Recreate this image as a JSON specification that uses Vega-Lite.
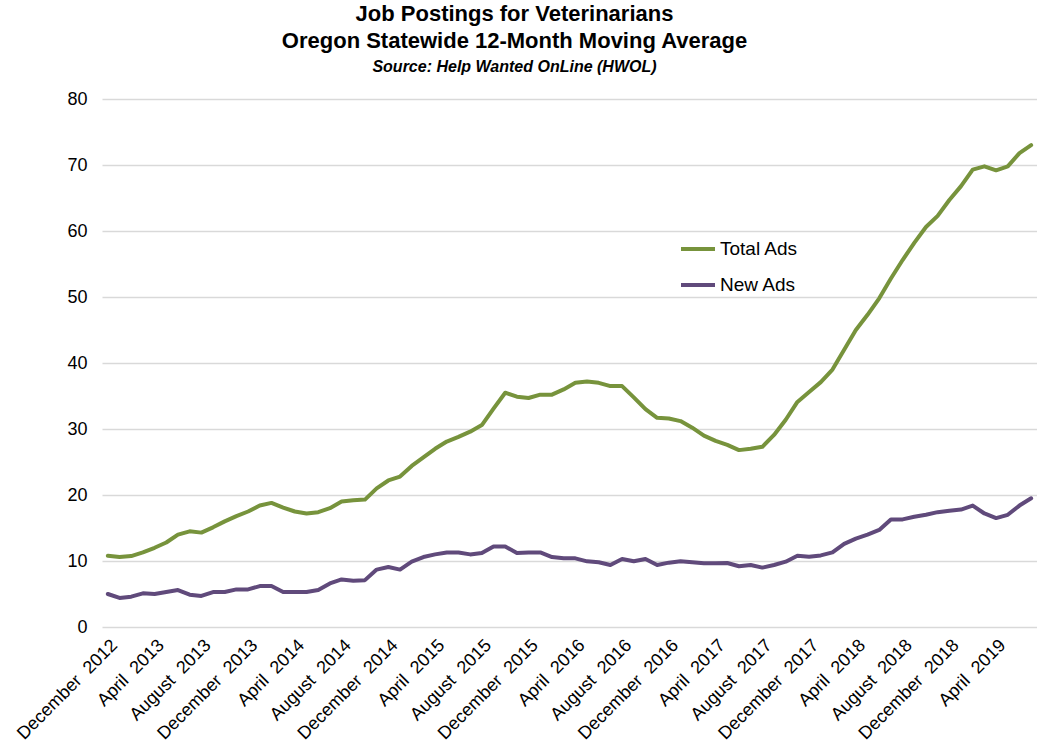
{
  "$schema": "https://vega.github.io/schema/vega-lite/v6.json",
  "width": 935,
  "height": 528,
  "autosize": {"type": "none"},
  "padding": {"left": 102, "top": 99, "right": 0, "bottom": 127},
  "background": "white",
  "config": {"view": {"stroke": null}, "font": "Liberation Sans"},
  "title": {
    "text": ["Job Postings for Veterinarians", "Oregon Statewide 12-Month Moving Average"],
    "subtitle": "Source: Help Wanted OnLine (HWOL)",
    "font": "Liberation Sans",
    "fontSize": 22,
    "fontWeight": "bold",
    "color": "#000000",
    "lineHeight": 27,
    "subtitleFont": "Liberation Sans",
    "subtitleFontSize": 16,
    "subtitleFontStyle": "italic",
    "subtitleFontWeight": "bold",
    "subtitleColor": "#000000",
    "subtitlePadding": 6,
    "anchor": "middle",
    "dx": -55,
    "offset": 14
  },
  "data": {
    "values": [
      {"month": "December 2012", "series": "Total Ads", "value": 10.8},
      {"month": "January 2013", "series": "Total Ads", "value": 10.6},
      {"month": "February 2013", "series": "Total Ads", "value": 10.75},
      {"month": "March 2013", "series": "Total Ads", "value": 11.3},
      {"month": "April 2013", "series": "Total Ads", "value": 12.0},
      {"month": "May 2013", "series": "Total Ads", "value": 12.8},
      {"month": "June 2013", "series": "Total Ads", "value": 14.0},
      {"month": "July 2013", "series": "Total Ads", "value": 14.5},
      {"month": "August 2013", "series": "Total Ads", "value": 14.3},
      {"month": "September 2013", "series": "Total Ads", "value": 15.1},
      {"month": "October 2013", "series": "Total Ads", "value": 16.0},
      {"month": "November 2013", "series": "Total Ads", "value": 16.8},
      {"month": "December 2013", "series": "Total Ads", "value": 17.5},
      {"month": "January 2014", "series": "Total Ads", "value": 18.4},
      {"month": "February 2014", "series": "Total Ads", "value": 18.8},
      {"month": "March 2014", "series": "Total Ads", "value": 18.1},
      {"month": "April 2014", "series": "Total Ads", "value": 17.5},
      {"month": "May 2014", "series": "Total Ads", "value": 17.2},
      {"month": "June 2014", "series": "Total Ads", "value": 17.4},
      {"month": "July 2014", "series": "Total Ads", "value": 18.0},
      {"month": "August 2014", "series": "Total Ads", "value": 19.0},
      {"month": "September 2014", "series": "Total Ads", "value": 19.2},
      {"month": "October 2014", "series": "Total Ads", "value": 19.3},
      {"month": "November 2014", "series": "Total Ads", "value": 21.0},
      {"month": "December 2014", "series": "Total Ads", "value": 22.2},
      {"month": "January 2015", "series": "Total Ads", "value": 22.8},
      {"month": "February 2015", "series": "Total Ads", "value": 24.4},
      {"month": "March 2015", "series": "Total Ads", "value": 25.7},
      {"month": "April 2015", "series": "Total Ads", "value": 27.0},
      {"month": "May 2015", "series": "Total Ads", "value": 28.1},
      {"month": "June 2015", "series": "Total Ads", "value": 28.8},
      {"month": "July 2015", "series": "Total Ads", "value": 29.6},
      {"month": "August 2015", "series": "Total Ads", "value": 30.6},
      {"month": "September 2015", "series": "Total Ads", "value": 33.1},
      {"month": "October 2015", "series": "Total Ads", "value": 35.5},
      {"month": "November 2015", "series": "Total Ads", "value": 34.9},
      {"month": "December 2015", "series": "Total Ads", "value": 34.7},
      {"month": "January 2016", "series": "Total Ads", "value": 35.2},
      {"month": "February 2016", "series": "Total Ads", "value": 35.2},
      {"month": "March 2016", "series": "Total Ads", "value": 36.0},
      {"month": "April 2016", "series": "Total Ads", "value": 37.0},
      {"month": "May 2016", "series": "Total Ads", "value": 37.2},
      {"month": "June 2016", "series": "Total Ads", "value": 37.0},
      {"month": "July 2016", "series": "Total Ads", "value": 36.5},
      {"month": "August 2016", "series": "Total Ads", "value": 36.5},
      {"month": "September 2016", "series": "Total Ads", "value": 34.8},
      {"month": "October 2016", "series": "Total Ads", "value": 33.0},
      {"month": "November 2016", "series": "Total Ads", "value": 31.7},
      {"month": "December 2016", "series": "Total Ads", "value": 31.6},
      {"month": "January 2017", "series": "Total Ads", "value": 31.2},
      {"month": "February 2017", "series": "Total Ads", "value": 30.2},
      {"month": "March 2017", "series": "Total Ads", "value": 29.0},
      {"month": "April 2017", "series": "Total Ads", "value": 28.2},
      {"month": "May 2017", "series": "Total Ads", "value": 27.6},
      {"month": "June 2017", "series": "Total Ads", "value": 26.8},
      {"month": "July 2017", "series": "Total Ads", "value": 27.0},
      {"month": "August 2017", "series": "Total Ads", "value": 27.3},
      {"month": "September 2017", "series": "Total Ads", "value": 29.1},
      {"month": "October 2017", "series": "Total Ads", "value": 31.4},
      {"month": "November 2017", "series": "Total Ads", "value": 34.1},
      {"month": "December 2017", "series": "Total Ads", "value": 35.6},
      {"month": "January 2018", "series": "Total Ads", "value": 37.1},
      {"month": "February 2018", "series": "Total Ads", "value": 39.0},
      {"month": "March 2018", "series": "Total Ads", "value": 42.0},
      {"month": "April 2018", "series": "Total Ads", "value": 45.0},
      {"month": "May 2018", "series": "Total Ads", "value": 47.3},
      {"month": "June 2018", "series": "Total Ads", "value": 49.8},
      {"month": "July 2018", "series": "Total Ads", "value": 52.8},
      {"month": "August 2018", "series": "Total Ads", "value": 55.6},
      {"month": "September 2018", "series": "Total Ads", "value": 58.2},
      {"month": "October 2018", "series": "Total Ads", "value": 60.6},
      {"month": "November 2018", "series": "Total Ads", "value": 62.3},
      {"month": "December 2018", "series": "Total Ads", "value": 64.7},
      {"month": "January 2019", "series": "Total Ads", "value": 66.8},
      {"month": "February 2019", "series": "Total Ads", "value": 69.3},
      {"month": "March 2019", "series": "Total Ads", "value": 69.8},
      {"month": "April 2019", "series": "Total Ads", "value": 69.2},
      {"month": "May 2019", "series": "Total Ads", "value": 69.8},
      {"month": "June 2019", "series": "Total Ads", "value": 71.8},
      {"month": "July 2019", "series": "Total Ads", "value": 73.0},
      {"month": "December 2012", "series": "New Ads", "value": 5.0},
      {"month": "January 2013", "series": "New Ads", "value": 4.4},
      {"month": "February 2013", "series": "New Ads", "value": 4.6},
      {"month": "March 2013", "series": "New Ads", "value": 5.1},
      {"month": "April 2013", "series": "New Ads", "value": 5.0},
      {"month": "May 2013", "series": "New Ads", "value": 5.3},
      {"month": "June 2013", "series": "New Ads", "value": 5.6},
      {"month": "July 2013", "series": "New Ads", "value": 4.9},
      {"month": "August 2013", "series": "New Ads", "value": 4.7},
      {"month": "September 2013", "series": "New Ads", "value": 5.3},
      {"month": "October 2013", "series": "New Ads", "value": 5.3},
      {"month": "November 2013", "series": "New Ads", "value": 5.7},
      {"month": "December 2013", "series": "New Ads", "value": 5.7},
      {"month": "January 2014", "series": "New Ads", "value": 6.2},
      {"month": "February 2014", "series": "New Ads", "value": 6.2},
      {"month": "March 2014", "series": "New Ads", "value": 5.3},
      {"month": "April 2014", "series": "New Ads", "value": 5.3},
      {"month": "May 2014", "series": "New Ads", "value": 5.3},
      {"month": "June 2014", "series": "New Ads", "value": 5.6},
      {"month": "July 2014", "series": "New Ads", "value": 6.6},
      {"month": "August 2014", "series": "New Ads", "value": 7.2},
      {"month": "September 2014", "series": "New Ads", "value": 7.0},
      {"month": "October 2014", "series": "New Ads", "value": 7.1},
      {"month": "November 2014", "series": "New Ads", "value": 8.7},
      {"month": "December 2014", "series": "New Ads", "value": 9.1},
      {"month": "January 2015", "series": "New Ads", "value": 8.7},
      {"month": "February 2015", "series": "New Ads", "value": 9.9},
      {"month": "March 2015", "series": "New Ads", "value": 10.6},
      {"month": "April 2015", "series": "New Ads", "value": 11.0},
      {"month": "May 2015", "series": "New Ads", "value": 11.3},
      {"month": "June 2015", "series": "New Ads", "value": 11.3},
      {"month": "July 2015", "series": "New Ads", "value": 11.0},
      {"month": "August 2015", "series": "New Ads", "value": 11.2},
      {"month": "September 2015", "series": "New Ads", "value": 12.2},
      {"month": "October 2015", "series": "New Ads", "value": 12.2},
      {"month": "November 2015", "series": "New Ads", "value": 11.2},
      {"month": "December 2015", "series": "New Ads", "value": 11.3},
      {"month": "January 2016", "series": "New Ads", "value": 11.3},
      {"month": "February 2016", "series": "New Ads", "value": 10.6},
      {"month": "March 2016", "series": "New Ads", "value": 10.4},
      {"month": "April 2016", "series": "New Ads", "value": 10.4},
      {"month": "May 2016", "series": "New Ads", "value": 9.95},
      {"month": "June 2016", "series": "New Ads", "value": 9.8},
      {"month": "July 2016", "series": "New Ads", "value": 9.4},
      {"month": "August 2016", "series": "New Ads", "value": 10.3},
      {"month": "September 2016", "series": "New Ads", "value": 9.95},
      {"month": "October 2016", "series": "New Ads", "value": 10.3},
      {"month": "November 2016", "series": "New Ads", "value": 9.4},
      {"month": "December 2016", "series": "New Ads", "value": 9.75},
      {"month": "January 2017", "series": "New Ads", "value": 9.95},
      {"month": "February 2017", "series": "New Ads", "value": 9.8},
      {"month": "March 2017", "series": "New Ads", "value": 9.65},
      {"month": "April 2017", "series": "New Ads", "value": 9.65},
      {"month": "May 2017", "series": "New Ads", "value": 9.7},
      {"month": "June 2017", "series": "New Ads", "value": 9.2},
      {"month": "July 2017", "series": "New Ads", "value": 9.4},
      {"month": "August 2017", "series": "New Ads", "value": 9.0},
      {"month": "September 2017", "series": "New Ads", "value": 9.4},
      {"month": "October 2017", "series": "New Ads", "value": 9.9},
      {"month": "November 2017", "series": "New Ads", "value": 10.8},
      {"month": "December 2017", "series": "New Ads", "value": 10.65},
      {"month": "January 2018", "series": "New Ads", "value": 10.85},
      {"month": "February 2018", "series": "New Ads", "value": 11.3},
      {"month": "March 2018", "series": "New Ads", "value": 12.6},
      {"month": "April 2018", "series": "New Ads", "value": 13.4},
      {"month": "May 2018", "series": "New Ads", "value": 14.0},
      {"month": "June 2018", "series": "New Ads", "value": 14.7},
      {"month": "July 2018", "series": "New Ads", "value": 16.3},
      {"month": "August 2018", "series": "New Ads", "value": 16.3},
      {"month": "September 2018", "series": "New Ads", "value": 16.7},
      {"month": "October 2018", "series": "New Ads", "value": 17.0},
      {"month": "November 2018", "series": "New Ads", "value": 17.4},
      {"month": "December 2018", "series": "New Ads", "value": 17.6},
      {"month": "January 2019", "series": "New Ads", "value": 17.8},
      {"month": "February 2019", "series": "New Ads", "value": 18.4},
      {"month": "March 2019", "series": "New Ads", "value": 17.2},
      {"month": "April 2019", "series": "New Ads", "value": 16.5},
      {"month": "May 2019", "series": "New Ads", "value": 17.0},
      {"month": "June 2019", "series": "New Ads", "value": 18.4},
      {"month": "July 2019", "series": "New Ads", "value": 19.5}
    ]
  },
  "mark": {"type": "line", "strokeWidth": 4, "strokeJoin": "round", "strokeCap": "round"},
  "encoding": {
    "x": {
      "field": "month",
      "type": "ordinal",
      "sort": null,
      "scale": {"type": "point", "padding": 0.5},
      "axis": {
        "title": null,
        "values": ["December 2012", "April 2013", "August 2013", "December 2013", "April 2014", "August 2014", "December 2014", "April 2015", "August 2015", "December 2015", "April 2016", "August 2016", "December 2016", "April 2017", "August 2017", "December 2017", "April 2018", "August 2018", "December 2018", "April 2019"],
        "labelAngle": -45,
        "labelFont": "Liberation Sans",
        "labelFontSize": 18,
        "labelColor": "#000000",
        "labelExpr": "replace(datum.label, ' ', '\u00a0\u00a0')",
        "labelPadding": 9,
        "ticks": false,
        "domain": false,
        "grid": false,
        "labelOverlap": false
      }
    },
    "y": {
      "field": "value",
      "type": "quantitative",
      "scale": {"domain": [0, 80]},
      "axis": {
        "title": null,
        "values": [0, 10, 20, 30, 40, 50, 60, 70, 80],
        "grid": true,
        "gridColor": "#d9d9d9",
        "gridWidth": 1.5,
        "domain": false,
        "ticks": false,
        "labelFont": "Liberation Sans",
        "labelFontSize": 18,
        "labelColor": "#000000",
        "labelPadding": 15
      }
    },
    "color": {
      "field": "series",
      "type": "nominal",
      "scale": {"domain": ["Total Ads", "New Ads"], "range": ["#77933C", "#604A7B"]},
      "legend": {
        "title": null,
        "orient": "none",
        "legendX": 577,
        "legendY": 131,
        "symbolType": "stroke",
        "symbolSize": 1156,
        "symbolStrokeWidth": 4,
        "labelFont": "Liberation Sans",
        "labelFontSize": 19,
        "labelColor": "#000000",
        "labelOffset": 3,
        "rowPadding": 7
      }
    }
  }
}
